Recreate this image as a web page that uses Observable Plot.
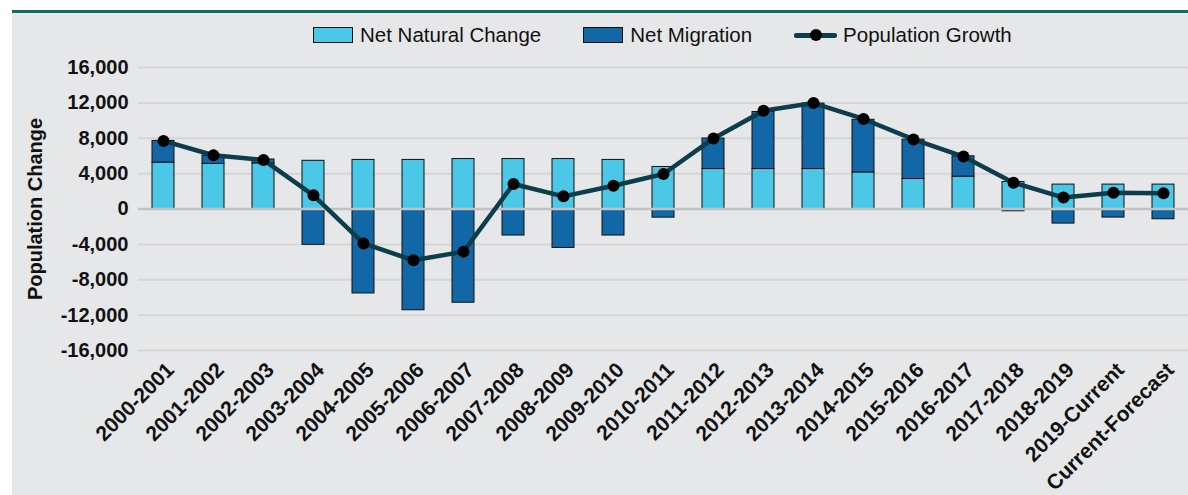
<!DOCTYPE html>
<html>
<head>
<meta charset="utf-8">
<script src="https://cdn.jsdelivr.net/npm/d3@7"></script>
<script src="https://cdn.jsdelivr.net/npm/@observablehq/plot@0.6"></script>
<style>
  body { margin: 0; background: #ffffff; font-family: "Liberation Sans", Arial, sans-serif; }
  #wrap { position: relative; width: 1188px; height: 495px; overflow: hidden; }
  #rule { position: absolute; left: 12px; right: 0; top: 9.5px; height: 3px; background: #0f6e5f; }
  #panel { position: absolute; left: 12px; right: 0; top: 12.5px; bottom: 0; background: #e6e7e9; }
  #legend { position: absolute; left: 313px; top: 23px; height: 24px; display: flex; align-items: center; font-size: 20.5px; color: #111; white-space: nowrap; }
  .sw { width: 38px; height: 14px; border: 1px solid #111; margin-right: 7px; }
  .gap { width: 42px; }
  .ln { position: relative; width: 43px; height: 16px; margin-right: 6px; }
  .ln .bar { position: absolute; left: 0; right: 0; top: 6px; height: 4.5px; background: #0b3d4c; border-radius: 2px; }
  .ln .dt { position: absolute; left: 15.5px; top: 2px; width: 12px; height: 12px; border-radius: 50%; background: #000; }
  #chart { position: absolute; left: 0; top: 0; }
</style>
</head>
<body>
<div id="wrap">
  <div id="rule"></div>
  <div id="panel"></div>
  <div id="legend">
    <div class="sw" style="background:#4bc8e8"></div><span>Net Natural Change</span>
    <div class="gap"></div>
    <div class="sw" style="background:#1268a6"></div><span>Net Migration</span>
    <div class="gap"></div>
    <div class="ln"><div class="bar"></div><div class="dt"></div></div><span>Population Growth</span>
  </div>
  <div id="chart"></div>
</div>
<script>
const periods = ["2000-2001","2001-2002","2002-2003","2003-2004","2004-2005","2005-2006","2006-2007","2007-2008","2008-2009","2009-2010","2010-2011","2011-2012","2012-2013","2013-2014","2014-2015","2015-2016","2016-2017","2017-2018","2018-2019","2019-Current","Current-Forecast"];
const netNatural = [5250, 5100, 5150, 5450, 5550, 5550, 5650, 5650, 5650, 5550, 4750, 4520, 4520, 4520, 4140, 3390, 3660, 3050, 2760, 2760, 2760];
const netMigration = [2450, 950, 450, -4050, -9550, -11450, -10600, -3000, -4400, -3000, -980, 3450, 6450, 7400, 5950, 4450, 2300, -260, -1650, -970, -1160];
const popGrowth = [7700, 6080, 5550, 1550, -3900, -5800, -4820, 2830, 1430, 2630, 3960, 7980, 11100, 11980, 10180, 7870, 5930, 2980, 1290, 1850, 1770];
const yTicks = [-16000, -12000, -8000, -4000, 0, 4000, 8000, 12000, 16000];
const seriesNames = ["Net Natural Change", "Net Migration"];
const seriesColors = ["#4bc8e8", "#1268a6"];

const bars = [];
periods.forEach((p, i) => {
  bars.push({period: p, type: seriesNames[0], value: netNatural[i]});
  bars.push({period: p, type: seriesNames[1], value: netMigration[i]});
});
const growth = periods.map((p, i) => ({period: p, value: popGrowth[i]}));

const chart = Plot.plot({
  width: 1188,
  height: 495,
  marginTop: 67,
  marginBottom: 145,
  marginLeft: 138,
  marginRight: 0,
  style: {background: "transparent", fontFamily: "'Liberation Sans', Arial, sans-serif", color: "#111"},
  x: {domain: periods, paddingInner: 0.57, paddingOuter: 0.285},
  y: {domain: [-16000, 16000]},
  color: {domain: seriesNames, range: seriesColors},
  marks: [
    Plot.ruleY(yTicks.filter(d => d !== 0), {stroke: "#d5d5d6", strokeWidth: 2}),
    Plot.barY(bars, {x: "period", y: "value", fill: "type", stroke: "#111", strokeWidth: 1}),
    Plot.ruleY([0], {stroke: "#c2c2c3", strokeWidth: 2.5}),
    Plot.line(growth, {x: "period", y: "value", stroke: "#0b3d4c", strokeWidth: 4.5, curve: "linear"}),
    Plot.dot(growth, {x: "period", y: "value", r: 6, fill: "#000", stroke: "none"}),
    Plot.axisY({ticks: yTicks, tickFormat: d => d.toLocaleString("en-US"), tickSize: 0, tickPadding: 10, fontSize: 20, fontWeight: "bold", label: "Population Change", labelAnchor: "center", labelOffset: 111, labelArrow: "none"}),
    Plot.axisX({tickRotate: -45, tickSize: 0, tickPadding: 16, dx: 7, fontSize: 21, fontWeight: "bold", label: null})
  ]
});
document.getElementById("chart").appendChild(chart);
</script>
</body>
</html>
